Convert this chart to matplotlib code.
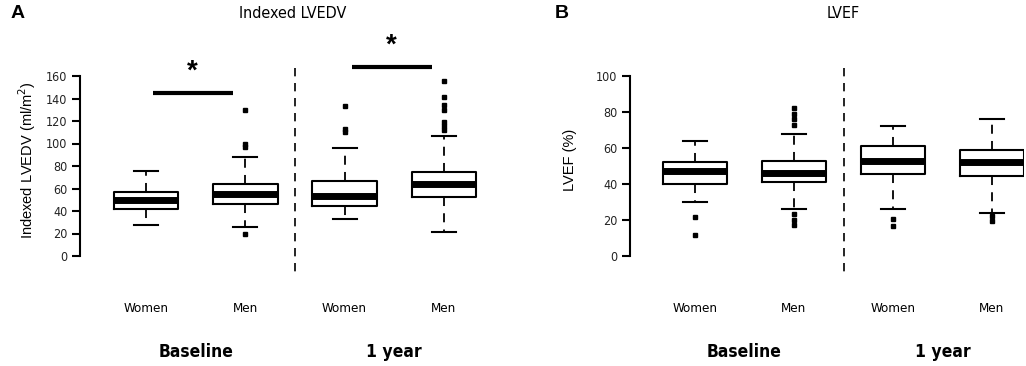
import matplotlib
matplotlib.use("Agg")
import matplotlib.pyplot as plt
import matplotlib.transforms as mtransforms

W, H = 1026, 366
NARROW = ["Liberation Sans Narrow", "DejaVu Sans"]
SANS = ["Liberation Sans", "DejaVu Sans"]
COND = dict(family=NARROW, stretch="condensed")

groups = ["Women", "Men", "Women", "Men"]
periods = ["Baseline", "1 year"]

# Indexed LVEDV (ml/m2): whislo, q1, med, q3, whishi, outliers
lvedv_stats = [
    (27.5, 41.5, 50.0, 56.5, 75.5, []),
    (26.0, 46.5, 55.0, 64.0, 88.0, [20, 97, 100, 130]),
    (32.5, 44.5, 53.5, 67.0, 96.0, [110, 113, 133]),
    (21.0, 52.5, 64.0, 75.0, 107.0, [112, 116, 119, 130, 134, 141, 156]),
]
# LVEF (%)
lvef_stats = [
    (30.0, 40.0, 47.0, 52.0, 64.0, [11.5, 21.5]),
    (26.0, 41.0, 46.0, 53.0, 68.0, [17, 20, 23.5, 73, 76, 79, 82]),
    (26.0, 45.5, 53.0, 61.0, 72.0, [16.5, 20.5]),
    (24.0, 44.5, 52.0, 59.0, 76.0, [19.5, 22.5]),
]
# significance bars: from box, to box, bar value, star value (LVEDV)
sig_bars = [(1, 2, 145, 164), (3, 4, 168, 187)]


def to_bxp(stats):
    out = []
    for lo, q1, med, q3, hi, fl in stats:
        out.append(dict(whislo=lo, q1=q1, med=med, q3=q3, whishi=hi, fliers=fl))
    return out


def px_axes(fig, left, right, top, bottom):
    return fig.add_axes([left / W, 1 - bottom / H, (right - left) / W, (bottom - top) / H])


def panel(fig, stats, left, right, x0, dx, ymax, ylabel, yticks, labelpad):
    # y: 0 -> px 256, ymax -> px 76
    top, bottom = 30, 290
    ppu = 180.0 / ymax
    ax = px_axes(fig, left, right, top, bottom)
    ax.set_ylim(-(bottom - 256) / ppu, (256 - top) / ppu)
    ax.set_xlim(1 - (x0 - left) / dx, 1 + (right - x0) / dx)
    ax.bxp(to_bxp(stats), positions=[1, 2, 3, 4], widths=0.65, showfliers=True,
           patch_artist=False,
           boxprops=dict(color="black", linewidth=1.5),
           medianprops=dict(color="black", linewidth=5, solid_capstyle="butt"),
           whiskerprops=dict(color="black", linewidth=1.3, linestyle=(0, (5, 4))),
           capprops=dict(color="black", linewidth=1.5),
           capwidths=0.24,
           flierprops=dict(marker="s", markersize=2.6, markerfacecolor="black",
                           markeredgecolor="black"))
    for s in ["top", "right", "bottom"]:
        ax.spines[s].set_visible(False)
    ax.spines["left"].set_bounds(0, ymax)
    ax.spines["left"].set_linewidth(1.5)
    ax.set_yticks(yticks)
    ax.set_yticklabels([str(t) for t in yticks], fontsize=9, color="#222222", **COND)
    ax.tick_params(axis="y", length=6, width=1.5, pad=3)
    ax.set_xticks([1, 2, 3, 4])
    ax.set_xticklabels(groups, fontsize=9.5, **COND)
    ax.tick_params(axis="x", length=0, pad=9)
    ax.set_ylabel(ylabel, family=SANS, fontsize=10.5, labelpad=labelpad)
    ax.plot([2.5, 2.5], [(256 - 68) / ppu, -(273 - 256) / ppu], color="black",
            linestyle=(0, (5, 4)), linewidth=1.2, clip_on=False)
    trans = mtransforms.blended_transform_factory(ax.transData, fig.transFigure)
    for i, p in enumerate(periods):
        ax.text(1.5 + 2 * i, 1 - 352 / H, p, transform=trans, ha="center", va="center",
                fontsize=12.5, fontweight="bold", **COND)
    return ax


fig = plt.figure(figsize=(W / 100, H / 100), dpi=100)

axA = panel(fig, lvedv_stats, 80, 490, 146, 99.3, 160,
            "Indexed LVEDV (ml/m$^2$)", list(range(0, 161, 20)), 6)
for a, b, yv, ys in sig_bars:
    axA.plot([a + 0.07, b - 0.12], [yv, yv], color="black", linewidth=3, solid_capstyle="butt",
             clip_on=False)
    axA.text((a + b) / 2 - 0.03, ys, "*", ha="center", va="center", fontsize=20,
             fontweight="bold", family=SANS)

axB = panel(fig, lvef_stats, 630, 1024, 695, 99.0, 100,
            "LVEF (%)", list(range(0, 101, 20)), 14)

fig.text(293 / W, 1 - 14 / H, "Indexed LVEDV", ha="center", va="center", fontsize=11.5, **COND)
fig.text(843 / W, 1 - 14 / H, "LVEF", ha="center", va="center", fontsize=11.5, **COND)
fig.text(18 / W, 1 - 13 / H, "A", ha="center", va="center", family=SANS, fontsize=14, fontweight="bold")
fig.text(562 / W, 1 - 13 / H, "B", ha="center", va="center", family=SANS, fontsize=14, fontweight="bold")

fig.savefig("out.png", dpi=100)
